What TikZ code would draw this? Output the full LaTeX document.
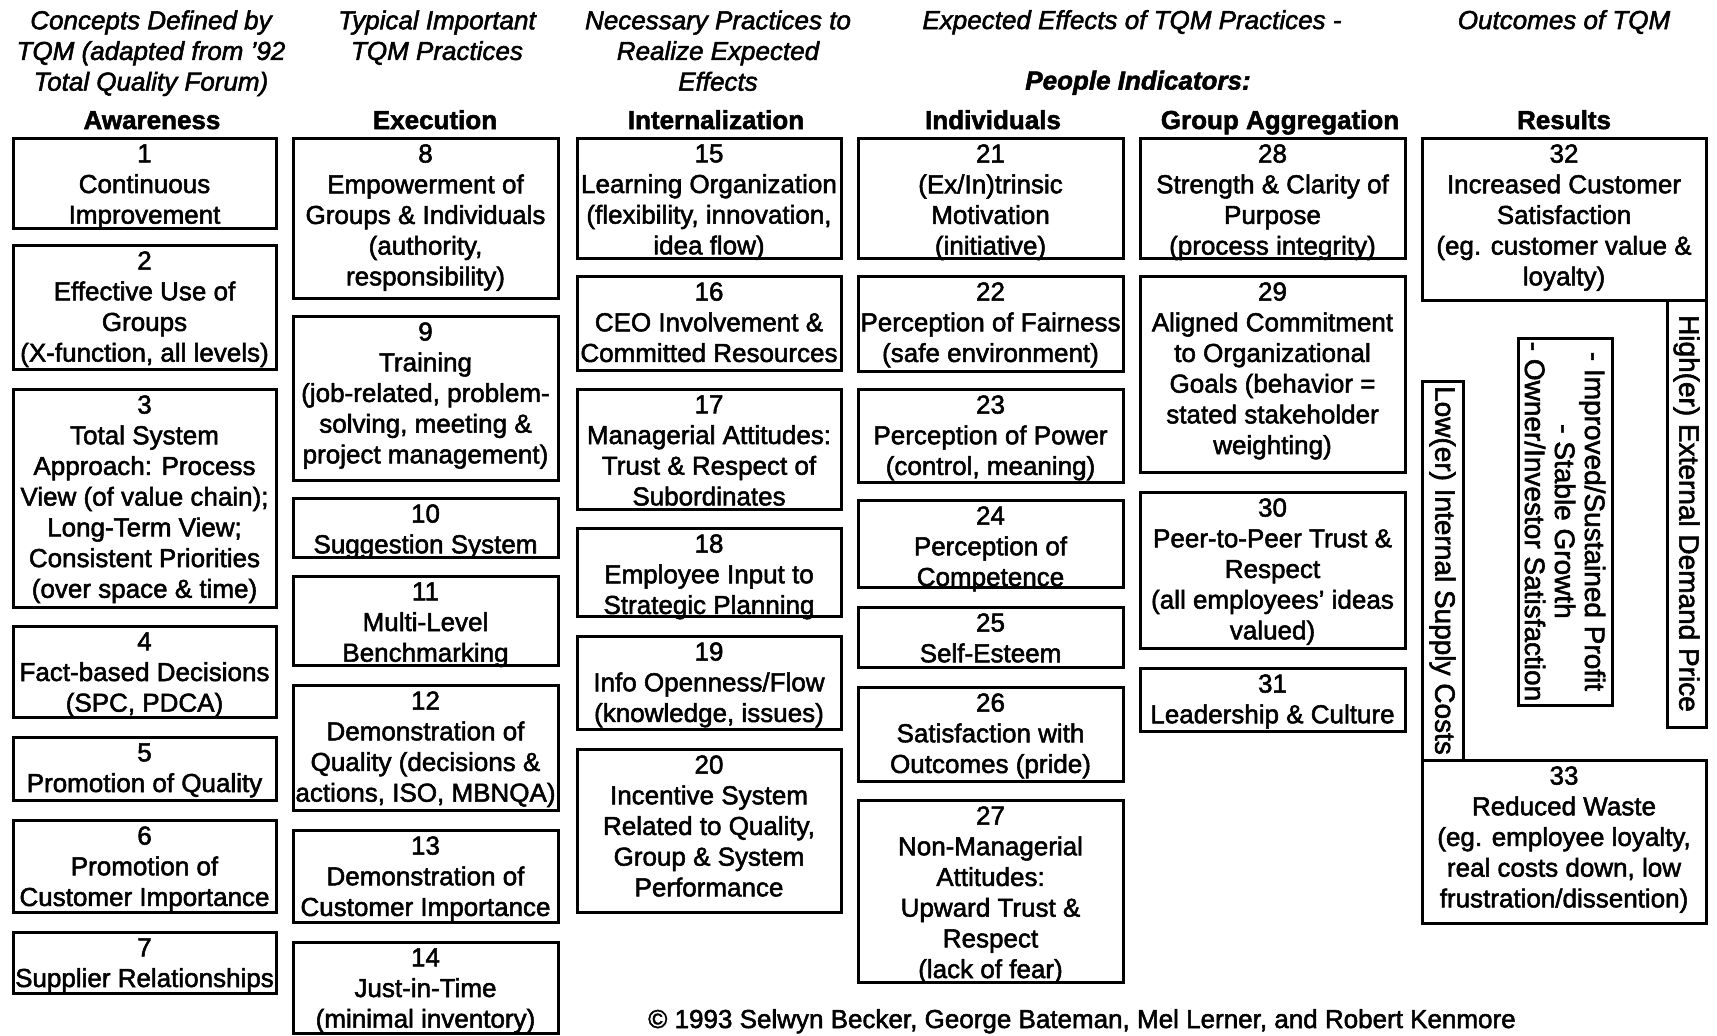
\documentclass[tikz,border=0pt]{standalone}
\usepackage{fontspec}
\setmainfont{Liberation Sans}[FakeBold=2]
\usetikzlibrary{fit}
\tikzset{
  boxst/.style={draw, line width=1.5pt, inner sep=0pt},
  txt/.style={font=\fontsize{13}{15.35}\selectfont, align=center, inner sep=0pt, anchor=north},
  ithead/.style={font=\fontsize{13}{15.35}\selectfont\itshape, align=center, inner sep=0pt},
  bdhead/.style={font=\fontsize{13}{15.35}\selectfont\bfseries, inner sep=0pt, anchor=base},
  rottxt/.style={font=\fontsize{14}{15}\selectfont, align=center, inner sep=0pt, rotate=-90},
}
\newcommand\tqmbox[6]{%
  \node[boxst, fit={(#2,#3) (#4,#5)}] (#1) {};
  \node[txt] (#1t) at ([yshift=-3.75pt]#1.north) {#6};}
\begin{document}
\begin{tikzpicture}[x=0.5pt,y=-0.5pt]
\useasboundingbox (0,0) rectangle (1717,1035);
% italic column headers
\node[ithead, anchor=north] (h1) at (151,10) {Concepts Defined by\\TQM (adapted from '92\\Total Quality Forum)};
\node[ithead, anchor=north] (h2) at (437,10) {Typical Important\\TQM Practices};
\node[ithead, anchor=north] (h3) at (718,10) {Necessary Practices to\\Realize Expected\\Effects};
\node[ithead, anchor=base] (h4) at (1132,29) {Expected Effects of TQM Practices -};
\node[ithead, anchor=base, font=\fontsize{13}{15.35}\selectfont\bfseries\itshape] (h5) at (1138,89.5) {People Indicators:};
\node[ithead, anchor=base] (h6) at (1564,29) {Outcomes of TQM};
% bold headers
\node[bdhead] (g1) at (152,129) {Awareness};
\node[bdhead] (g2) at (435,129) {Execution};
\node[bdhead] (g3) at (716,129) {Internalization};
\node[bdhead] (g4) at (993,129) {Individuals};
\node[bdhead] (g5) at (1280,129) {Group Aggregation};
\node[bdhead] (g6) at (1564,129) {Results};
% column 1
\tqmbox{b1}{13}{138}{276}{228}{1\\Continuous\\Improvement}
\tqmbox{b2}{13}{245}{276}{369}{2\\Effective Use of\\Groups\\(X-function, all levels)}
\tqmbox{b3}{13}{389}{276}{607}{3\\Total System\\Approach: Process\\View (of value chain);\\Long-Term View;\\Consistent Priorities\\(over space \& time)}
\tqmbox{b4}{13}{626}{276}{717}{4\\Fact-based Decisions\\(SPC, PDCA)}
\tqmbox{b5}{13}{737}{276}{800}{5\\Promotion of Quality}
\tqmbox{b6}{13}{820}{276}{912}{6\\Promotion of\\Customer Importance}
\tqmbox{b7}{13}{932}{276}{993}{7\\Supplier Relationships}
% column 2
\tqmbox{b8}{293}{138}{558}{298}{8\\Empowerment of\\Groups \& Individuals\\(authority,\\responsibility)}
\tqmbox{b9}{293}{316}{558}{480}{9\\Training\\(job-related, problem-\\solving, meeting \&\\project management)}
\tqmbox{b10}{293}{498}{558}{557}{10\\Suggestion System}
\tqmbox{b11}{293}{576}{558}{665}{11\\Multi-Level\\Benchmarking}
\tqmbox{b12}{293}{685}{558}{810}{12\\Demonstration of\\Quality (decisions \&\\actions, ISO, MBNQA)}
\tqmbox{b13}{293}{830}{558}{922}{13\\Demonstration of\\Customer Importance}
\tqmbox{b14}{293}{942}{558}{1033}{14\\Just-in-Time\\(minimal inventory)}
% column 3
\tqmbox{b15}{577}{138}{841}{258}{15\\Learning Organization\\(flexibility, innovation,\\idea flow)}
\tqmbox{b16}{577}{276}{841}{370}{16\\CEO Involvement \&\\Committed Resources}
\tqmbox{b17}{577}{389}{841}{509}{17\\Managerial Attitudes:\\Trust \& Respect of\\Subordinates}
\tqmbox{b18}{577}{528}{841}{616}{18\\Employee Input to\\Strategic Planning}
\tqmbox{b19}{577}{636}{841}{729}{19\\Info Openness/Flow\\(knowledge, issues)}
\tqmbox{b20}{577}{749}{841}{912}{20\\Incentive System\\Related to Quality,\\Group \& System\\Performance}
% column 4
\tqmbox{b21}{858}{138}{1123}{258}{21\\(Ex/In)trinsic\\Motivation\\(initiative)}
\tqmbox{b22}{858}{276}{1123}{371}{22\\Perception of Fairness\\(safe environment)}
\tqmbox{b23}{858}{389}{1123}{482}{23\\Perception of Power\\(control, meaning)}
\tqmbox{b24}{858}{500}{1123}{587}{24\\Perception of\\Competence}
\tqmbox{b25}{858}{607}{1123}{667}{25\\Self-Esteem}
\tqmbox{b26}{858}{687}{1123}{781}{26\\Satisfaction with\\Outcomes (pride)}
\tqmbox{b27}{858}{800}{1123}{982}{27\\Non-Managerial\\Attitudes:\\Upward Trust \&\\Respect\\(lack of fear)}
% column 5
\tqmbox{b28}{1140}{138}{1405}{258}{28\\Strength \& Clarity of\\Purpose\\(process integrity)}
\tqmbox{b29}{1140}{276}{1405}{472}{29\\Aligned Commitment\\to Organizational\\Goals (behavior =\\stated stakeholder\\weighting)}
\tqmbox{b30}{1140}{492}{1405}{648}{30\\Peer-to-Peer Trust \&\\Respect\\(all employees' ideas\\valued)}
\tqmbox{b31}{1140}{668}{1405}{731}{31\\Leadership \& Culture}
% column 6
\tqmbox{b32}{1422}{138}{1706}{300}{32\\Increased Customer\\Satisfaction\\(eg. customer value \&\\loyalty)}
\tqmbox{b33}{1422}{760}{1706}{923}{33\\Reduced Waste\\(eg. employee loyalty,\\real costs down, low\\frustration/dissention)}
\node[boxst, fit={(1667,300) (1706,727)}] (high) {};
\node[rottxt] (hight) at (high.center) {High(er) External Demand Price};
\node[boxst, fit={(1518,338) (1612,705)}] (mid) {};
\node[rottxt] (midt) at (mid.center) {- Improved/Sustained Profit\\- Stable Growth\\- Owner/Investor Satisfaction};
\node[boxst, fit={(1422,381) (1463,760)}] (low) {};
\node[rottxt] (lowt) at (low.center) {Low(er) Internal Supply Costs};
% copyright
\node[bdhead, font=\fontsize{13}{15.35}\selectfont] (copy) at (1082,1028) {© 1993 Selwyn Becker, George Bateman, Mel Lerner, and Robert Kenmore};
\end{tikzpicture}
\end{document}
